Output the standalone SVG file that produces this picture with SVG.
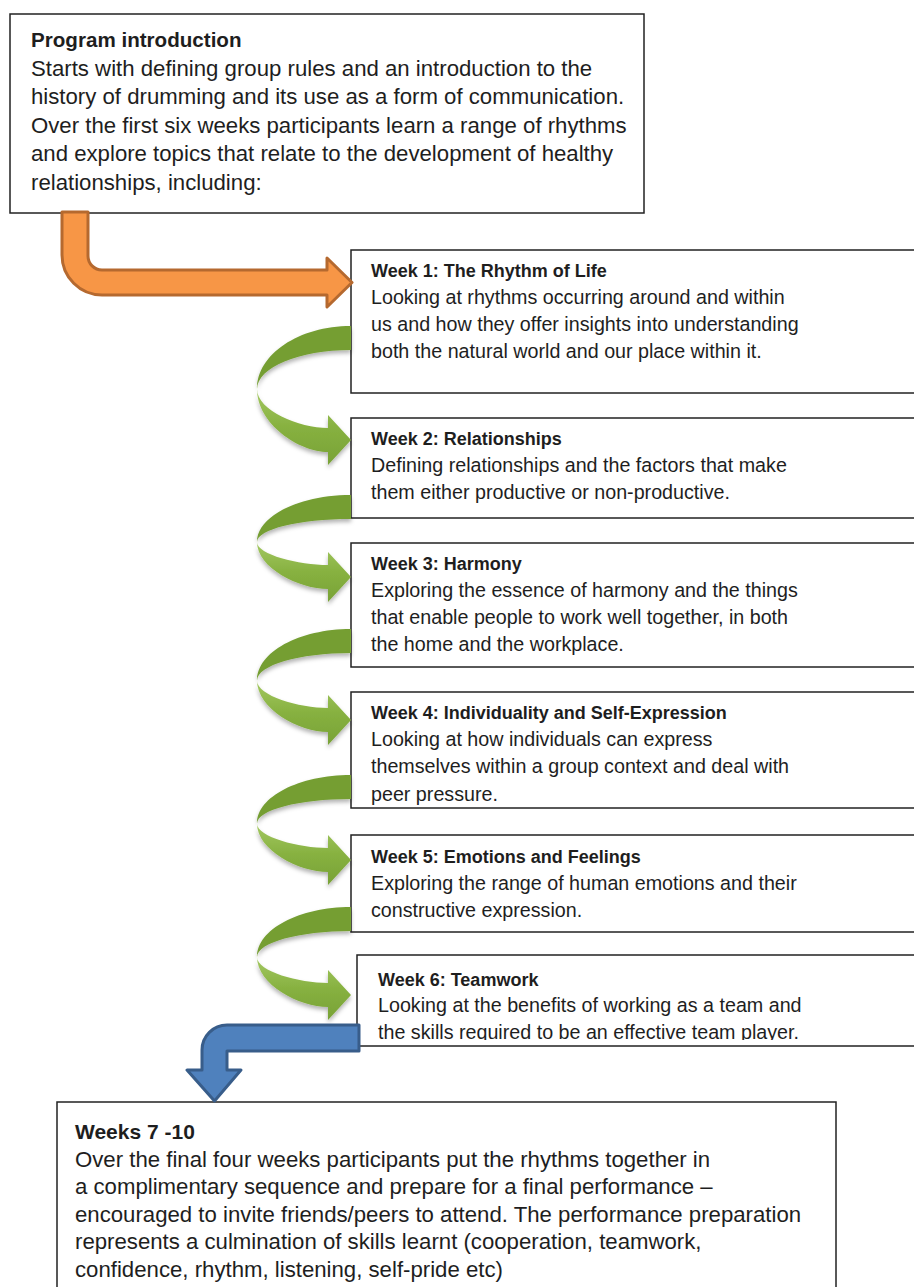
<svg xmlns="http://www.w3.org/2000/svg" width="914" height="1287" viewBox="0 0 914 1287">
<style>
.box{fill:#fff;stroke:#222;stroke-width:1.5}
.t{font-family:"Liberation Sans",Arial,sans-serif;fill:#1e1e1e}
.big{font-size:22.2px}
.bigb{font-size:20.6px;font-weight:bold}
.wk{font-size:19.7px}
.wkb{font-size:18px;font-weight:bold}
.back{fill:#749e33}
.front{fill:url(#gfront)}
</style>
<defs>
<linearGradient id="gfront" x1="0" y1="0" x2="0" y2="1">
<stop offset="0" stop-color="#a3c862"/>
<stop offset="0.5" stop-color="#87b140"/>
<stop offset="1" stop-color="#78a236"/>
</linearGradient>
<filter id="sh" x="-20%" y="-20%" width="140%" height="150%">
<feDropShadow dx="0" dy="3" stdDeviation="2" flood-color="#000" flood-opacity="0.3"/>
</filter>
<clipPath id="c4"><rect x="351" y="692" width="600" height="113"/></clipPath>
<clipPath id="c6"><rect x="357" y="955" width="600" height="85"/></clipPath>
</defs>

<g id="intro">
<rect class="box" x="10" y="14" width="634" height="199"/>
<text class="t bigb" x="31" y="47">Program introduction</text>
<text class="t big" x="31" y="75.5">Starts with defining group rules and an introduction to the</text>
<text class="t big" x="31" y="104">history of drumming and its use as a form of communication.</text>
<text class="t big" x="31" y="132.5">Over the first six weeks participants learn a range of rhythms</text>
<text class="t big" x="31" y="161">and explore topics that relate to the development of healthy</text>
<text class="t big" x="31" y="189.5">relationships, including:</text>
</g>

<g id="week1">
<rect class="box" x="351" y="250" width="600" height="143"/>
<text class="t wkb" x="371" y="277">Week 1: The Rhythm of Life</text>
<text class="t wk" x="371" y="304">Looking at rhythms occurring around and within</text>
<text class="t wk" x="371" y="331">us and how they offer insights into understanding</text>
<text class="t wk" x="371" y="358">both the natural world and our place within it.</text>
</g>

<g id="week2">
<rect class="box" x="351" y="418" width="600" height="100"/>
<text class="t wkb" x="371" y="445">Week 2: Relationships</text>
<text class="t wk" x="371" y="472">Defining relationships and the factors that make</text>
<text class="t wk" x="371" y="499">them either productive or non-productive.</text>
</g>

<g id="week3">
<rect class="box" x="351" y="543" width="600" height="124"/>
<text class="t wkb" x="371" y="570">Week 3: Harmony</text>
<text class="t wk" x="371" y="597">Exploring the essence of harmony and the things</text>
<text class="t wk" x="371" y="624">that enable people to work well together, in both</text>
<text class="t wk" x="371" y="651">the home and the workplace.</text>
</g>

<g id="week4">
<rect class="box" x="351" y="692" width="600" height="116"/>
<g clip-path="url(#c4)">
<text class="t wkb" x="371" y="719">Week 4: Individuality and Self-Expression</text>
<text class="t wk" x="371" y="746">Looking at how individuals can express</text>
<text class="t wk" x="371" y="773">themselves within a group context and deal with</text>
<text class="t wk" x="371" y="801">peer pressure.</text>
</g>
</g>

<g id="week5">
<rect class="box" x="351" y="835" width="600" height="97"/>
<text class="t wkb" x="371" y="863">Week 5: Emotions and Feelings</text>
<text class="t wk" x="371" y="890">Exploring the range of human emotions and their</text>
<text class="t wk" x="371" y="917">constructive expression.</text>
</g>

<g id="week6">
<rect class="box" x="357" y="955" width="600" height="91"/>
<g clip-path="url(#c6)">
<text class="t wkb" x="378" y="986">Week 6: Teamwork</text>
<text class="t wk" x="378" y="1012">Looking at the benefits of working as a team and</text>
<text class="t wk" x="378" y="1039">the skills required to be an effective team player.</text>
</g>
</g>

<g id="final">
<rect class="box" x="57" y="1102" width="779" height="200"/>
<text class="t" x="75" y="1139" font-size="21px" font-weight="bold">Weeks 7 -10</text>
<text class="t big" x="75" y="1166.5">Over the final four weeks participants put the rhythms together in</text>
<text class="t big" x="75" y="1194">a complimentary sequence and prepare for a final performance –</text>
<text class="t big" x="75" y="1221.5">encouraged to invite friends/peers to attend. The performance preparation</text>
<text class="t big" x="75" y="1249">represents a culmination of skills learnt (cooperation, teamwork,</text>
<text class="t big" x="75" y="1276.5">confidence, rhythm, listening, self-pride etc)</text>
</g>

<g id="connectors">
<path id="orange-arrow" d="M62,212 H88 V256 A14,14 0 0 0 102,270 H327 V258 L352,282.5 L327,307 V295 H102 A40,40 0 0 1 62,255 Z" fill="#f79646" stroke="#b5692f" stroke-width="3" stroke-linejoin="round"/>
<g id="green1" filter="url(#sh)">
<path class="back" d="M351,326 C299,326 257,354.2 257,389 C257,367.5 299,350 351,350 Z"/>
<path class="front" d="M257,389 C257,423.8 299,452 328,452 L328,465 L351,440 L328,415 L328,428 C299,428 257,410.5 257,389 Z"/>
</g>
<g id="green2" filter="url(#sh)">
<path class="back" d="M351,495 C299,495 257,516.1 257,542 C257,529.3 299,519 351,519 Z"/>
<path class="front" d="M257,542 C257,567.9 299,589 328,589 L328,602 L351,577 L328,552 L328,565 C299,565 257,554.7 257,542 Z"/>
</g>
<g id="green3" filter="url(#sh)">
<path class="back" d="M351,629 C299,629 257,652.1 257,680.5 C257,665.3 299,653 351,653 Z"/>
<path class="front" d="M257,680.5 C257,708.9 299,732 328,732 L328,745 L351,720 L328,695 L328,708 C299,708 257,695.7 257,680.5 Z"/>
</g>
<g id="green4" filter="url(#sh)">
<path class="back" d="M351,775 C299,775 257,796.7 257,823.5 C257,810 299,799 351,799 Z"/>
<path class="front" d="M257,823.5 C257,850.3 299,872 328,872 L328,885 L351,860 L328,835 L328,848 C299,848 257,837 257,823.5 Z"/>
</g>
<g id="green5" filter="url(#sh)">
<path class="back" d="M351,907 C299,907 257,929.4 257,957 C257,942.6 299,931 351,931 Z"/>
<path class="front" d="M257,957 C257,984.6 299,1007 328,1007 L328,1020 L351,995 L328,970 L328,983 C299,983 257,971.4 257,957 Z"/>
</g>
<path id="blue-arrow" d="M359,1025 V1051 H227 V1070 H241 L214.5,1101 L187,1070 H202 V1050 A25,25 0 0 1 227,1025 Z" fill="#4f81bd" stroke="#385d8a" stroke-width="3" stroke-linejoin="round"/>
</g>
</svg>
